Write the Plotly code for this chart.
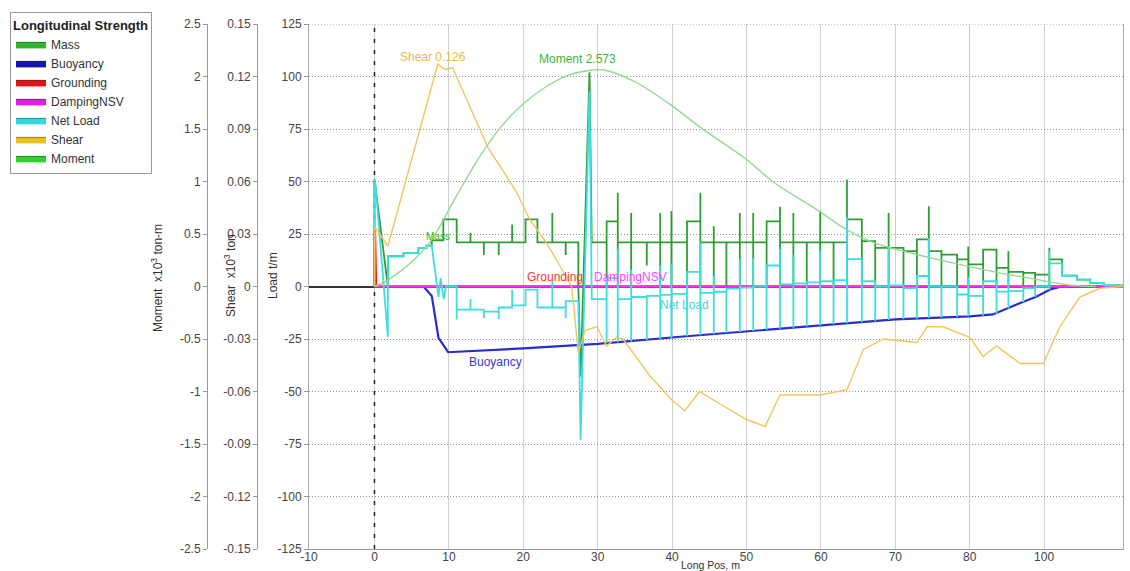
import plotly.graph_objects as go

# ---------------- tick labels ----------------
X_TICK_POS = [-8.8, 0, 10, 20, 30, 40, 50, 60, 70, 80, 90, 100.6]
X_TICK_TXT = ["-10", "0", "10", "20", "30", "40", "50", "60", "70", "80", "100", "110"]
LOAD_TICKS = [125, 100, 75, 50, 25, 0, -25, -50, -75, -100, -125]
LOAD_TICK_TXT = ["125", "100", "75", "50", "25", "0", "-25", "-50", "-75", "-100", "-125"]
SHEAR_TICKS = [0.15, 0.12, 0.09, 0.06, 0.03, 0, -0.03, -0.06, -0.09, -0.12, -0.15]
SHEAR_TICK_TXT = ["0.15", "0.12", "0.09", "0.06", "0.03", "0", "-0.03", "-0.06", "-0.09", "-0.12", "-0.15"]
MOMENT_TICKS = [2.5, 2, 1.5, 1, 0.5, 0, -0.5, -1, -1.5, -2, -2.5]
MOMENT_TICK_TXT = ["2.5", "2", "1.5", "1", "0.5", "0", "-0.5", "-1", "-1.5", "-2", "-2.5"]

# ---------------- Mass / Net Load : bow part (t/m) ----------------
MASS_BOW_X = [0, 0, 1.8, 1.8, 3.9, 3.9, 5.9, 5.9, 7.0, 7.0, 7.7, 7.7, 9.25, 9.25, 11.05]
MASS_BOW_Y = [0, 51, 0, 14.4, 14.4, 16, 16, 18.4, 18.4, 19.5, 19.5, 22, 22, 32, 32]
NET_BOW_X = [0, 0, 0.15, 1.8, 1.8, 3.9, 3.9, 5.9, 5.9, 7.0, 7.0, 7.7, 8.6, 8.9, 9.3, 9.6, 11.05, 11.05]
NET_BOW_Y = [0, 51, 48, -24, 14.4, 14.4, 16, 16, 18.4, 18.4, 19.5, 19.5, -5, 4, -6, 0, 0, -15.7]

# ---------------- group 1 (11.05 .. 27.4) ----------------
G1_START, G1_END = 11.05, 27.4
G1_EV_X = [12.9, 14.7, 16.7, 18.5, 20.3, 21.9, 23.9, 25.7]
G1_M_LVL = [21, 21, 21, 21, 21, 32, 21, 21, 21]
G1_M_TOP = [25.6, 21, 21, 29.5, 32, 32, 35, 21]
G1_M_BOT = [21, 15, 15, 21, 21, 21, 21, 15]
G1_N_LVL = [-11, -11, -12, -10, -9, -1.5, -10, -10, -7]
G1_N_TOP = [-6, -11, -11, -1.5, -1.5, -1.5, 3, -10]
G1_N_BOT = [-11, -15, -15.5, -10, -9, -10, -10, -15]

# ---------------- big zig-zag near 28 m ----------------
MASS_ZIG_X = [27.4, 27.7, 28.9, 29.2]
MASS_ZIG_Y = [0, -43, 102, 21]
NET_ZIG_X = [27.4, 27.7, 28.9, 29.2]
NET_ZIG_Y = [-7, -73, 93, -6]

# ---------------- group 2 (29.2 .. 100.4) ----------------
G2_START, G2_END = 29.2, 100.4
G2_EV_X = [31.2, 32.7, 34.5, 36.6, 38.4, 39.9, 42.0, 43.8, 45.6, 47.3, 49.1, 50.9, 52.7,
           54.5, 56.3, 58.1, 59.9, 61.7, 63.5, 65.5, 67.3, 69.1, 71.1, 72.9, 74.5, 76.2,
           78.3, 79.8, 81.8, 83.6, 85.2, 87.2, 88.8, 90.7, 92.4, 94.4, 96.2, 98.0]
G2_M_LVL = [21, 31, 21, 21, 21, 21, 21, 31, 21, 21, 21, 21, 21, 31, 21, 21, 21, 21, 21,
            32, 21.6, 18.4, 18.4, 16.8, 22.4, 16.8, 15.2, 12.9, 10.5, 17.6, 8.9, 7, 6.5,
            5.7, 12.9, 5.2, 3.3, 1.7, 0.5]
G2_M_TOP = [31, 44.7, 35, 21, 35, 36, 31, 44.7, 28.7, 21, 35, 35, 31, 38, 35, 21, 36, 21,
            51, 32, 21.6, 35, 18.4, 22.4, 38.2, 16.8, 15.2, 19, 17.6, 17.6, 16.8, 7, 6.5,
            18.4, 12.9, 5.2, 3.3, 1.7]
G2_M_BOT = [0, 0, 0, 10, 0, 0, 0, 0, 0, 0, 0, 0, 0, 0, 0, 0, 0, 0, 0, 0, 0, 0, 0, 0, 0,
            0, 0, 0, 0, 0, 0, 0, 0, 0, 5.2, 3.3, 1.7, 0.5]
G2_N_LVL = [-6, 4, -6, -5, -4.5, -4, -3.5, 7, -3, -2.5, -1, -0.5, 0, 10, 1, 1.5, 2, 2.5, 3,
            13, 2.5, 0, 0.5, -0.8, 5, 0, 0, -3.8, -4.5, 2.5, -2.4, -2.2, -0.8, 0, 11,
            5.2, 3.3, 1.7, 0.5]
G2_N_TOP = [4, 18, 8, -5, 10, 11, 7, 21, 5, -1, 13, 13.5, 10, 18, 15, 2, 17, 3, 33, 13,
            2.5, 18.5, 0.5, 5, 23, 0, 0, 4.5, 2.5, 2.5, 6, -2.2, 0, 17, 11, 5.2, 3.3, 1.7]
G2_N_BOT = [-27, -26.6, -26.2, -25.5, -25, -24.5, -23.7, -23.2, -22.7, -22.2, -21.7, -21.2,
            -20.6, -20.1, -19.6, -19.1, -18.6, -18, -17.5, -17, -16.5, -16, -15.6, -15.3,
            -15, -14.8, -14.5, -14.2, -13.8, -13, -10.5, -7.5, -5, -1.5, 5.2, 3.3, 1.7, 0.5]

# ---------------- Buoyancy (t/m) ----------------
BUOY_X = [6.6, 7.7, 8.6, 9.9, 20, 30, 41.5, 50, 59.9, 70, 80, 83.1, 86.3, 89, 90.8, 92.4, 100.6]
BUOY_Y = [0, -4.5, -24.4, -31.3, -29.5, -27.3, -23.8, -21.4, -18.6, -15.7, -14.2, -13.3,
          -8.6, -4.8, -1.4, 0, 0]

# ---------------- Grounding / DampingNSV (t/m) ----------------
GROUND_X = [0, 0.05, 0.2, 100.6]
GROUND_Y = [0, 27, 0, 0]
DAMP_X = [0, 100.6]
DAMP_Y = [0, 0]

# ---------------- Shear (x10^3 ton) ----------------
SHEAR_X = [0, 0.05, 1.8, 8.5, 9.5, 10.5, 15.3, 19.1, 20.9, 23.1, 24.9, 26.5, 27.4, 28.3,
           29.9, 31.2, 32.5, 33.4, 37, 40, 41.7, 43.7, 46, 50, 52.5, 54.5, 59.9, 63.5,
           65.7, 68.4, 72.9, 74.3, 76.4, 80, 81.8, 83.6, 86.8, 89.9, 92.1, 94.8, 97.5, 100.6]
SHEAR_Y = [0, 0.034, 0.023, 0.127, 0.124, 0.125, 0.079, 0.054, 0.038, 0.025, 0.012, 0,
           -0.038, -0.025, -0.023, -0.034, -0.029, -0.030, -0.051, -0.065, -0.071, -0.060,
           -0.066, -0.076, -0.080, -0.062, -0.062, -0.059, -0.036, -0.030, -0.032, -0.023,
           -0.023, -0.029, -0.040, -0.034, -0.044, -0.044, -0.023, -0.006, -0.001, 0]

# ---------------- Moment (x10^3 ton-m) ----------------
MOMENT_X = [0, 2, 7, 11, 14, 17, 20, 23, 26, 29, 31, 35, 40, 43.7, 50, 53.5, 59.5, 63.5,
            67, 72, 78, 84, 88, 91, 94, 97]
MOMENT_Y = [0, 0.07, 0.38, 0.86, 1.22, 1.52, 1.74, 1.9, 2.01, 2.06, 2.06, 1.95, 1.72,
            1.52, 1.21, 1.0, 0.73, 0.54, 0.42, 0.32, 0.22, 0.13, 0.08, 0.04, 0.01, 0]

# ---------------- legend / labels ----------------
SERIES = ["Mass", "Buoyancy", "Grounding", "DampingNSV", "Net Load", "Shear", "Moment"]
SWATCH = ["#2db52d", "#1414b4", "#e01414", "#e020e0", "#30d8e0", "#e8c020", "#30d030"]
SWATCH_EDGE = ["#1d7a1d", "#0a0a70", "#901010", "#901090", "#1a9098", "#9a8010", "#1e8a1e"]

C_MASS = "#2e9e34"
C_BUOY = "#2b2bc8"
C_GROUND = "#e8201e"
C_DAMP = "#ff33ff"
C_NET = "#3ddde2"
C_SHEAR = "#f2c55c"
C_MOMENT = "#93d893"

FONT = "Liberation Sans, Arial, sans-serif"


def build(x0, x1, ev_x, lvl, top, bot):
    xs, ys = [x0], [lvl[0]]
    for i, xe in enumerate(ev_x):
        xs += [xe, xe, xe, xe]
        ys += [lvl[i], top[i], bot[i], lvl[i + 1]]
    xs.append(x1)
    ys.append(lvl[-1])
    return xs, ys


g1mx, g1my = build(G1_START, G1_END, G1_EV_X, G1_M_LVL, G1_M_TOP, G1_M_BOT)
g2mx, g2my = build(G2_START, G2_END, G2_EV_X, G2_M_LVL, G2_M_TOP, G2_M_BOT)
g1nx, g1ny = build(G1_START, G1_END, G1_EV_X, G1_N_LVL, G1_N_TOP, G1_N_BOT)
g2nx, g2ny = build(G2_START, G2_END, G2_EV_X, G2_N_LVL, G2_N_TOP, G2_N_BOT)

mass_x = MASS_BOW_X + g1mx + MASS_ZIG_X + g2mx + [G2_END]
mass_y = MASS_BOW_Y + g1my + MASS_ZIG_Y + g2my + [0]
net_x = NET_BOW_X + g1nx + NET_ZIG_X + g2nx + [G2_END]
net_y = NET_BOW_Y + g1ny + NET_ZIG_Y + g2ny + [0]

fig = go.Figure()

fig.add_trace(go.Scatter(x=mass_x, y=mass_y, mode="lines", line=dict(color=C_MASS, width=1.8),
                         showlegend=False, hoverinfo="skip"))
fig.add_trace(go.Scatter(x=BUOY_X, y=BUOY_Y, mode="lines", line=dict(color=C_BUOY, width=2.2),
                         showlegend=False, hoverinfo="skip"))
fig.add_trace(go.Scatter(x=GROUND_X, y=GROUND_Y, mode="lines", line=dict(color=C_GROUND, width=2.5),
                         showlegend=False, hoverinfo="skip"))
fig.add_trace(go.Scatter(x=DAMP_X, y=DAMP_Y, mode="lines", line=dict(color=C_DAMP, width=1.8),
                         showlegend=False, hoverinfo="skip"))
fig.add_trace(go.Scatter(x=net_x, y=net_y, mode="lines", line=dict(color=C_NET, width=1.8),
                         showlegend=False, hoverinfo="skip"))
fig.add_trace(go.Scatter(x=SHEAR_X, y=SHEAR_Y, yaxis="y2", mode="lines",
                         line=dict(color=C_SHEAR, width=1.4), showlegend=False, hoverinfo="skip"))
fig.add_trace(go.Scatter(x=MOMENT_X, y=MOMENT_Y, yaxis="y3", mode="lines", line_shape="spline",
                         line=dict(color=C_MOMENT, width=1.4), showlegend=False, hoverinfo="skip"))

# legend entries (filled swatches)
for name, col, edge in zip(SERIES, SWATCH, SWATCH_EDGE):
    fig.add_trace(go.Scatter(x=[None], y=[None], mode="lines", fill="toself", fillcolor=col,
                             line=dict(color=edge, width=1), name=name, hoverinfo="skip"))

# in-plot labels
LABELS = [
    ("Shear 0.126", 7.9, 109.5, "#eab850"),
    ("Moment 2.573", 27.3, 108.5, "#3cb43c"),
    ("Mass", 8.6, 24, "#22bb22"),
    ("Grounding", 24.2, 4.6, "#f03838"),
    ("DampingNSV", 34.4, 4.6, "#ff44ff"),
    ("Net Load", 41.7, -8.6, "#40d8d8"),
    ("Buoyancy", 16.2, -36, "#3838c8"),
]
for txt, lx, ly, col in LABELS:
    fig.add_annotation(x=lx, y=ly, xref="x", yref="y", text=txt, showarrow=False,
                       font=dict(family=FONT, size=10 if txt == "Mass" else 12, color=col))

fig.add_shape(type="line", x0=0, x1=0, y0=-125, y1=125, xref="x", yref="y", layer="between",
              line=dict(color="#222222", width=1.5, dash="4px,7px"))
# dotted top border at 125 (as in the reference)
fig.add_shape(type="line", x0=-8.8, x1=100.6, y0=125, y1=125, xref="x", yref="y", layer="between",
              line=dict(color="#909090", width=1, dash="1px,2px"))

L, R, T, B = 20, 7, 24, 22
W, H = 1130, 571
pw = W - L - R
ph = H - T - B


def px2paper(px):
    return (px - L) / pw


def py2paper(py):
    return (H - B - py) / ph


tick_font = dict(family=FONT, size=12, color="#444444")

# axis titles
AXIS_TITLES = [
    ("Long Pos, m", 710, 565, 0),
    ("Load t/m", 273, 276, -90),
    ("Shear  x10<sup>3</sup> ton", 230, 276, -90),
    ("Moment  x10<sup>3</sup> ton-m", 157, 278, -90),
]
for txt, tx, ty, ang in AXIS_TITLES:
    fig.add_annotation(text=txt, xref="paper", yref="paper", x=px2paper(tx), y=py2paper(ty),
                       xanchor="center", yanchor="middle", showarrow=False, textangle=ang,
                       font=dict(family=FONT, size=10.5 if ang == 0 else 12, color="#333333"))

fig.update_layout(
    width=W, height=H,
    margin=dict(l=L, r=R, t=T, b=B, autoexpand=False),
    paper_bgcolor="white", plot_bgcolor="white",
    font=dict(family=FONT, size=12, color="#333333"),
    xaxis=dict(domain=[px2paper(309), 1], range=[-8.8, 100.6], tickvals=X_TICK_POS,
               ticktext=X_TICK_TXT, tickfont=tick_font, showgrid=True, gridcolor="#cfcfcf",
               gridwidth=1, zeroline=False, showline=True, linecolor="#999999", linewidth=1,
               ticks="", ticklabelstandoff=-3, automargin=False),
    yaxis=dict(range=[-125, 125], tickvals=LOAD_TICKS, ticktext=LOAD_TICK_TXT,
               tickfont=tick_font, showgrid=True, gridcolor="#909090", griddash="1px,2px",
               gridwidth=1, zeroline=True, zerolinecolor="#333333", zerolinewidth=1.5,
               showline=True, mirror=True, linecolor="#a8a8a8", linewidth=1, ticks="outside",
               ticklen=4, tickcolor="#999999", automargin=False),
    yaxis2=dict(range=[-0.15, 0.15], overlaying="y", anchor="free", side="left",
                position=px2paper(257), tickvals=SHEAR_TICKS, ticktext=SHEAR_TICK_TXT,
                tickfont=tick_font, showgrid=False, zeroline=False, showline=True,
                linecolor="#999999", linewidth=1, ticks="outside", ticklen=4, tickcolor="#999999",
                automargin=False),
    yaxis3=dict(range=[-2.5, 2.5], overlaying="y", anchor="free", side="left",
                position=px2paper(207), tickvals=MOMENT_TICKS, ticktext=MOMENT_TICK_TXT,
                tickfont=tick_font, showgrid=False, zeroline=False, showline=True,
                linecolor="#999999", linewidth=1, ticks="outside", ticklen=4, tickcolor="#999999",
                automargin=False),
    legend=dict(xref="container", yref="container", x=10 / W, y=1 - 12 / H,
                xanchor="left", yanchor="top",
                bgcolor="white", bordercolor="#999999", borderwidth=1,
                title=dict(text="<b>Longitudinal Strength</b>", font=dict(family=FONT, size=13, color="#222222")),
                font=dict(family=FONT, size=12, color="#333333"), tracegroupgap=0,
                itemwidth=30),
    showlegend=True,
)

fig.write_html("out.html", config={"displayModeBar": False},
               post_script="document.body.style.margin='0px';")
